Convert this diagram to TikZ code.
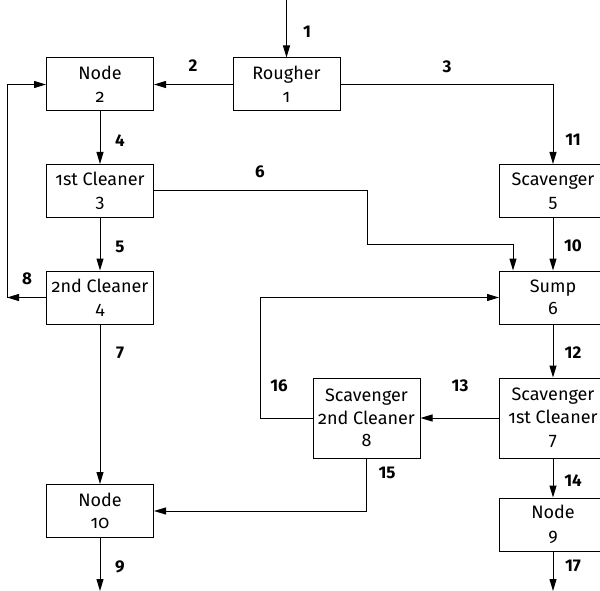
\documentclass[tikz,border=0pt]{standalone}
\usepackage{fontspec}
\setmainfont{Fira Sans}[Numbers=OldStyle]
\newfontfamily\lblfont{Fira Sans}[Numbers=Lining]
\usetikzlibrary{arrows.meta}
\begin{document}
\begin{tikzpicture}[x=1pt,y=-1pt,
  box/.style={draw, line width=1pt, rectangle, minimum width=107pt, minimum height=53pt, inner sep=0pt, align=center, font=\fontsize{18}{22.5}\selectfont},
  tall/.style={box, minimum height=80pt},
  arr/.style={line width=1pt, -{Triangle[length=12pt,width=7pt]}},
  lbl/.style={font=\lblfont\bfseries\fontsize{17}{18}\selectfont, inner sep=0pt}]
\useasboundingbox (0,0) rectangle (600,591);
% boxes
\node[box] (rough) at (286.5,84.5) {Rougher\\1};
\node[box] (n2) at (100,84.5) {Node\\2};
\node[box] (c3) at (100,191) {1st Cleaner\\3};
\node[box] (c4) at (100,297.5) {2nd Cleaner\\4};
\node[box] (n10) at (100,511) {Node\\10};
\node[box] (s5) at (553,191) {Scavenger\\5};
\node[box] (sump) at (553,297.5) {Sump\\6};
\node[tall] (s7) at (553,418) {Scavenger\\1st Cleaner\\7};
\node[tall] (s8) at (366.5,418) {Scavenger\\2nd Cleaner\\8};
\node[box] (n9) at (553,524.5) {Node\\9};
% free ends and bends
\coordinate (in) at (286.5,0);
\coordinate (out9) at (100,591);
\coordinate (out17) at (553,591);
\coordinate (L) at (7,297.5);
\coordinate (k6) at (367,244);
\coordinate (k16) at (260,297.5);
% connectors
\draw[arr] (in) -- (rough.north);
\draw[arr] (rough.west) -- (n2.east);
\draw[arr] (rough.east) -| (s5.north);
\draw[arr] (n2.south) -- (c3.north);
\draw[arr] (c3.south) -- (c4.north);
\draw[arr] (c3.east) -| (k6) -| ([xshift=-40pt]sump.north);
\draw[arr] (c4.west) -- (L);
\draw[arr] (L) |- (n2.west);
\draw[arr] (c4.south) -- (n10.north);
\draw[arr] (n10.south) -- (out9);
\draw[arr] (s5.south) -- (sump.north);
\draw[arr] (sump.south) -- (s7.north);
\draw[arr] (s7.west) -- (s8.east);
\draw[arr] (s8.west) -| (k16) -- (sump.west);
\draw[arr] (s8.south) |- (n10.east);
\draw[arr] (s7.south) -- (n9.north);
\draw[arr] (n9.south) -- (out17);
% labels
\node[lbl] (l1) at (307,32) {1};
\node[lbl] (l2) at (193,66) {2};
\node[lbl] (l3) at (447,67) {3};
\node[lbl] (l11) at (573,140) {11};
\node[lbl] (l4) at (120,141) {4};
\node[lbl] (l6) at (260,172) {6};
\node[lbl] (l5) at (120,247) {5};
\node[lbl] (l8) at (27,279) {8};
\node[lbl] (l7) at (120,353) {7};
\node[lbl] (l16) at (279,386) {16};
\node[lbl] (l13) at (460,386) {13};
\node[lbl] (l12) at (573,353) {12};
\node[lbl] (l10) at (573,246) {10};
\node[lbl] (l15) at (387,473) {15};
\node[lbl] (l14) at (573,481) {14};
\node[lbl] (l9) at (120,567) {9};
\node[lbl] (l17) at (573,566) {17};
\end{tikzpicture}
\end{document}
